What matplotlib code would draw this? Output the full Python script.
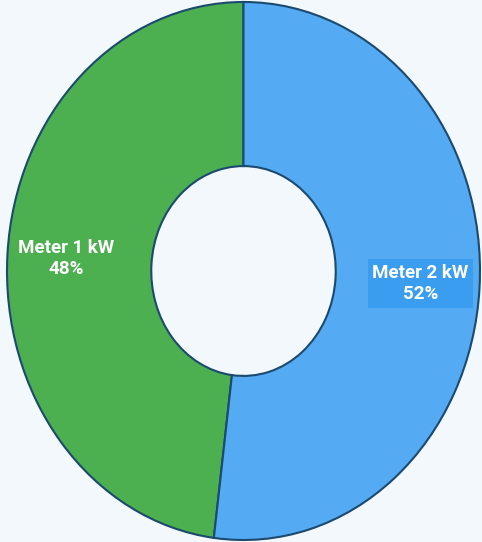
import matplotlib
matplotlib.use("Agg")
import matplotlib.pyplot as plt

# chart data
labels = ["Meter 1 kW", "Meter 2 kW"]
values = [48, 52]
colors = ["#4CAF50", "#55AAF4"]

plt.rcParams['font.family'] = ['Roboto', 'DejaVu Sans']

fig = plt.figure(figsize=(4.82, 5.42), dpi=100)
fig.patch.set_facecolor("#F3F8FD")
ax = fig.add_axes([0, 0, 1, 1])
ax.set_facecolor("#F3F8FD")

wedges, texts, autotexts = ax.pie(
    values, colors=colors, startangle=90, counterclock=True,
    radius=1.0, autopct="%1.0f%%", pctdistance=0.75,
    wedgeprops=dict(width=0.61, edgecolor="#1B4A6E", linewidth=1.5),
)

# put the series name above each percentage
for i, t in enumerate(autotexts):
    t.set_text(labels[i] + "\n" + "%d%%" % values[i])
    t.set_color("white")
    t.set_fontweight("bold")
    t.set_fontsize(13.5)
    t.set_ha("center")
    t.set_va("center")
    t.set_linespacing(1.25)
autotexts[1].set_bbox(dict(boxstyle="square,pad=0.25", facecolor="#3A9DF0",
                           edgecolor="none"))

# ellipse, not circle: stretch to the figure
ax.set_aspect("auto")
ax.set_xlim(-1.0296, 1.0085)
ax.set_ylim(-1.0074, 1.0074)
ax.axis("off")

fig.savefig("out.png", dpi=100, facecolor=fig.get_facecolor())
